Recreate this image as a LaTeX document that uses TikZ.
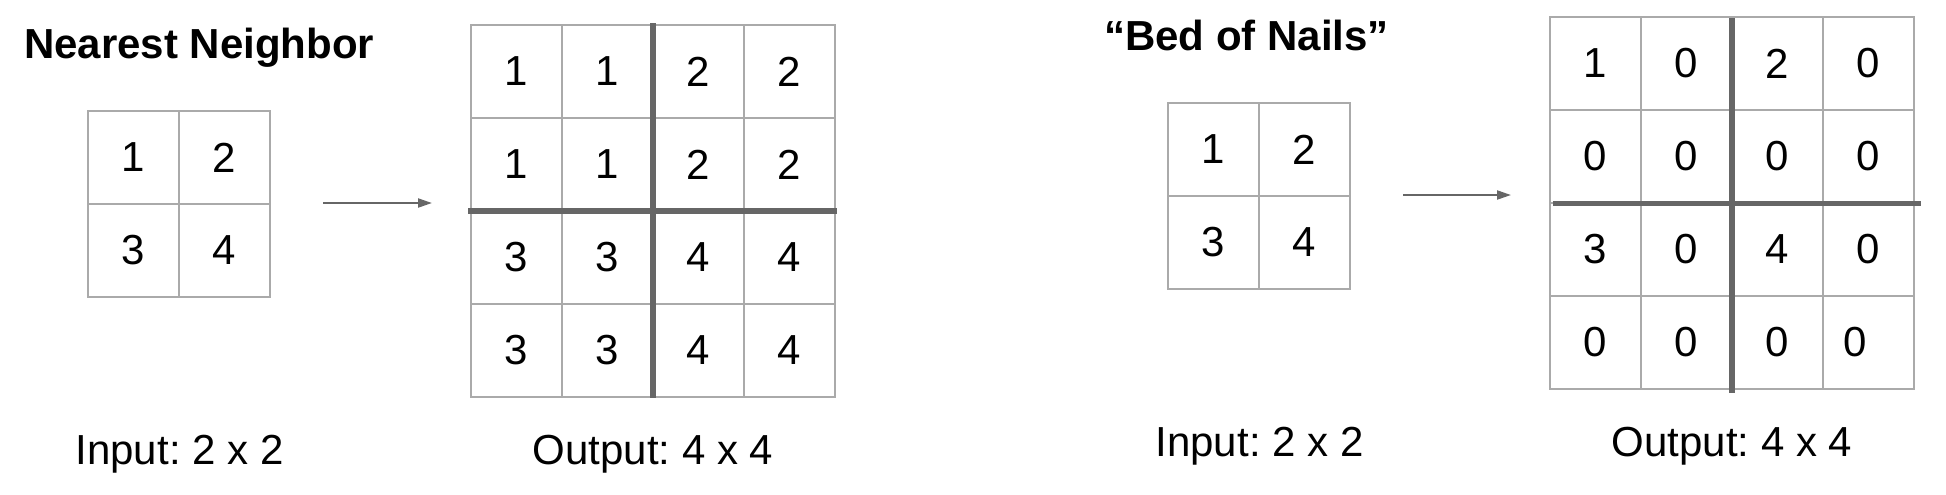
\documentclass[tikz,border=0pt]{standalone}
\usepackage{fontspec}
\setmainfont{Liberation Sans}
\usetikzlibrary{arrows.meta}
\definecolor{gridgray}{RGB}{170,170,170}
\definecolor{bargray}{RGB}{102,102,102}
\frenchspacing

\begin{document}
\begin{tikzpicture}[x=0.75pt,y=0.75pt,yscale=-1,xscale=1,
    cellbox/.style={draw=gridgray, line width=1.8pt, minimum width=68.25pt, minimum height=69.75pt, inner sep=0pt, font=\fontsize{31.5}{36}\selectfont},
    bigbar/.style={draw=bargray, line width=3.9pt},
    arrowline/.style={draw=bargray, line width=1.6pt, -{Triangle[length=10.5pt,width=6.75pt]}},
    caption/.style={anchor=base, inner sep=0pt, font=\fontsize{31.5}{36}\selectfont},
    heading/.style={anchor=base west, inner sep=0pt, font=\fontsize{31.5}{36}\selectfont\bfseries}]
    \useasboundingbox (0,0) rectangle (1946,494);

    % Text Node
    \node [heading] (nntitle) at (24,58) {Nearest Neighbor};
    % Text Node
    \node [heading] (bntitle) at (1104,50) {“Bed of Nails”};

    %Shape: Input grid, nearest neighbor
    \node [cellbox] (nn11) at (133.5,157.5) {1};
    \node [cellbox] (nn12) at (224.5,157.5) {2};
    \node [cellbox] (nn21) at (133.5,250.5) {3};
    \node [cellbox] (nn22) at (224.5,250.5) {4};

    %Shape: Output grid, nearest neighbor
    \node [cellbox] (nu11) at (516.5,71.5) {1};
    \node [cellbox] (nu12) at (607.5,71.5) {1};
    \node [cellbox] (nu13) at (698.5,71.5) {2};
    \node [cellbox] (nu14) at (789.5,71.5) {2};
    \node [cellbox] (nu21) at (516.5,164.5) {1};
    \node [cellbox] (nu22) at (607.5,164.5) {1};
    \node [cellbox] (nu23) at (698.5,164.5) {2};
    \node [cellbox] (nu24) at (789.5,164.5) {2};
    \node [cellbox] (nu31) at (516.5,257.5) {3};
    \node [cellbox] (nu32) at (607.5,257.5) {3};
    \node [cellbox] (nu33) at (698.5,257.5) {4};
    \node [cellbox] (nu34) at (789.5,257.5) {4};
    \node [cellbox] (nu41) at (516.5,350.5) {3};
    \node [cellbox] (nu42) at (607.5,350.5) {3};
    \node [cellbox] (nu43) at (698.5,350.5) {4};
    \node [cellbox] (nu44) at (789.5,350.5) {4};
    %Straight Lines
    \draw [bigbar] (653,23) -- (653,398) ;
    \draw [bigbar] (468,211) -- (837,211) ;

    %Shape: Input grid, bed of nails
    \node [cellbox] (bn11) at (1213.5,149.5) {1};
    \node [cellbox] (bn12) at (1304.5,149.5) {2};
    \node [cellbox] (bn21) at (1213.5,242.5) {3};
    \node [cellbox] (bn22) at (1304.5,242.5) {4};

    %Shape: Output grid, bed of nails
    \node [cellbox] (bu11) at (1595.5,63.5) {1};
    \node [cellbox] (bu12) at (1686.5,63.5) {0};
    \node [cellbox] (bu13) at (1777.5,63.5) {2};
    \node [cellbox] (bu14) at (1868.5,63.5) {0};
    \node [cellbox] (bu21) at (1595.5,156.5) {0};
    \node [cellbox] (bu22) at (1686.5,156.5) {0};
    \node [cellbox] (bu23) at (1777.5,156.5) {0};
    \node [cellbox] (bu24) at (1868.5,156.5) {0};
    \node [cellbox] (bu31) at (1595.5,249.5) {3};
    \node [cellbox] (bu32) at (1686.5,249.5) {0};
    \node [cellbox] (bu33) at (1777.5,249.5) {4};
    \node [cellbox] (bu34) at (1868.5,249.5) {0};
    \node [cellbox] (bu41) at (1595.5,342.5) {0};
    \node [cellbox] (bu42) at (1686.5,342.5) {0};
    \node [cellbox] (bu43) at (1777.5,342.5) {0};
    \node [cellbox] (bu44) at (1868.5,342.5) {};
    \node [font=\fontsize{31.5}{36}\selectfont, inner sep=0pt] (bu44txt) at (1855.5,342.5) {0};
    %Straight Lines
    \draw [bigbar] (1732,18) -- (1732,393) ;
    \draw [bigbar] (1553,203.5) -- (1921,203.5) ;

    %Straight Lines
    \coordinate (nnfrom) at (323,203);
    \coordinate (nnto) at (432,203);
    \draw [arrowline] (nnfrom) -- (nnto) ;
    \coordinate (bnfrom) at (1403,195);
    \coordinate (bnto) at (1511,195);
    \draw [arrowline] (bnfrom) -- (bnto) ;

    % Text Node
    \node [caption] (nnin) at (179.5,464) {Input: 2 x 2};
    % Text Node
    \node [caption] (nnout) at (653,464) {Output: 4 x 4};
    % Text Node
    \node [caption] (bnin) at (1259.5,456) {Input: 2 x 2};
    % Text Node
    \node [caption] (bnout) at (1732,456) {Output: 4 x 4};

\end{tikzpicture}
\end{document}
